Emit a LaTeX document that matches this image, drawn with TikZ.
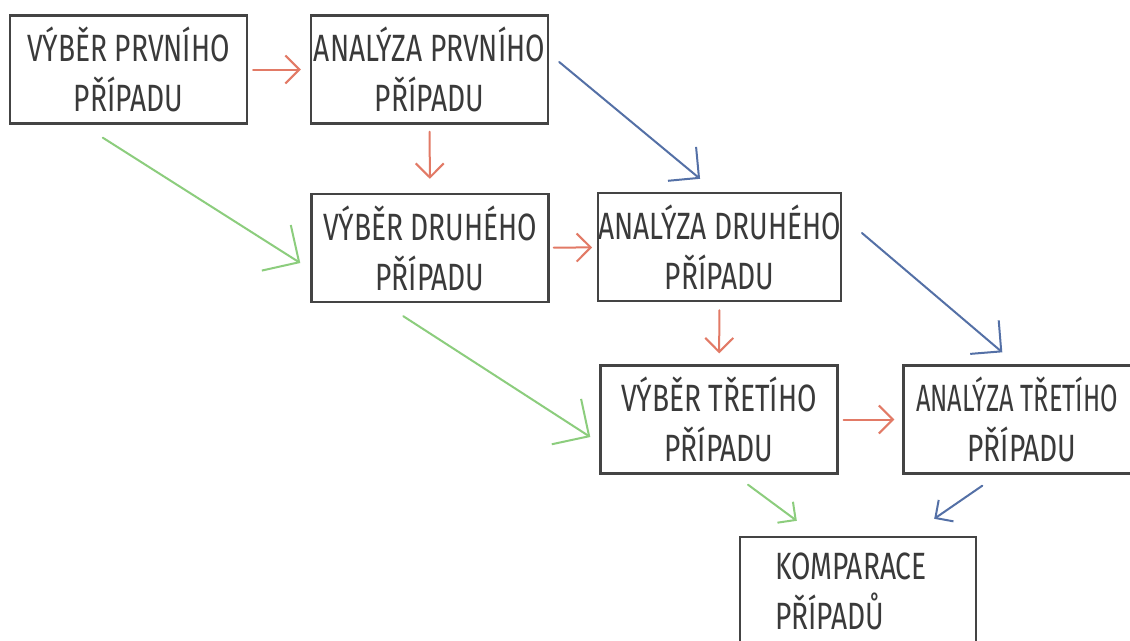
\documentclass[tikz,border=0pt]{standalone}
\usepackage{fontspec}
\setmainfont{Fira Sans}[FakeStretch=0.74]
\usetikzlibrary{arrows.meta,calc}

\definecolor{boxc}{RGB}{68,68,68}
\definecolor{txtc}{RGB}{58,58,58}
\definecolor{redc}{RGB}{226,122,102}
\definecolor{greenc}{RGB}{140,205,125}
\definecolor{bluec}{RGB}{84,112,166}

\newcommand{\handfont}{\fontsize{38}{50}\selectfont}

\tikzset{
  stage/.style={draw=boxc, line width=2.4pt, fill=white,
    minimum width=237pt, minimum height=108pt, inner sep=0pt,
    align=center, text=txtc, font=\handfont},
  link/.style={line width=2pt, line cap=round, line join=round},
  redarrow/.style={link, draw=redc, -{Straight Barb[length=#1, width'=0pt 2]}},
  redarrow/.default=14pt,
  greenarrow/.style={link, draw=greenc, -{Straight Barb[length=#1, width'=0pt 2]}},
  greenarrow/.default=27pt,
  bluearrow/.style={link, draw=bluec, -{Straight Barb[length=#1, width'=0pt 2]}},
  bluearrow/.default=22pt,
}

\begin{document}
\begin{tikzpicture}[x=1pt, y=-1pt]
  \useasboundingbox (0,0) rectangle (1130,640);
  \fill[white] (0,0) rectangle (1130,640);
  \clip (0,0) rectangle (1130,640);

  % stages of the comparison
  \node[stage] (A1) at (128.5,69.5) {VÝBĚR PRVNÍHO\\PŘÍPADU};
  \node[stage] (A2) at (429.5,69.5) {ANALÝZA PRVNÍHO\\PŘÍPADU};
  \node[stage] (B1) at (430,248)    {VÝBĚR DRUHÉHO\\PŘÍPADU};
  \node[stage] (B2) at (719.5,247)  {ANALÝZA DRUHÉHO\\PŘÍPADU};
  \node[stage] (C1) at (719,419.5)  {VÝBĚR TŘETÍHO\\PŘÍPADU};
  \node[stage] (C2) at (1022,419.5)
       {\hspace*{-10pt}\scalebox{0.9}[1]{ANALÝZA TŘETÍHO}\\PŘÍPADU};
  \node[stage, align=left, text width=166pt, inner xsep=35pt,
        minimum width=236pt] (D) at (858,591) {KOMPARACE\\PŘÍPADŮ};

  % selection -> analysis
  \draw[redarrow, shorten <=5pt, shorten >=9pt] (A1) -- (A2);
  \draw[redarrow, shorten <=4pt, shorten >=5pt] (B1) -- (B2);
  \draw[redarrow, shorten <=5pt, shorten >=8pt] (C1) -- (C2);

  % analysis -> next selection
  \draw[redarrow, shorten <=7pt, shorten >=14pt] (A2) -- (B1);
  \draw[redarrow, shorten <=8pt, shorten >=11pt] (B2) -- (C1);

  % selection chain
  \draw[greenarrow] ($(A1.south west)+(94,13)$) -- ($(B1.west)+(-10,15)$);
  \draw[greenarrow] ($(B1.south west)+(93,13)$) -- ($(C1.west)+(-9,17.5)$);
  \draw[greenarrow=13pt] ($(C1.south)+(29,10)$) -- ($(D.north west)+(58,-15)$);

  % analysis chain
  \draw[bluearrow] ($(A2.east)+(10,-7.5)$) -- ($(B2.north west)+(103,-13)$);
  \draw[bluearrow] ($(B2.east)+(20,-14)$) -- ($(C2.north west)+(100,-12)$);
  \draw[bluearrow=13pt] ($(C2.south west)+(80,11)$) -- ($(D.north east)+(-43,-17)$);
\end{tikzpicture}
\end{document}
